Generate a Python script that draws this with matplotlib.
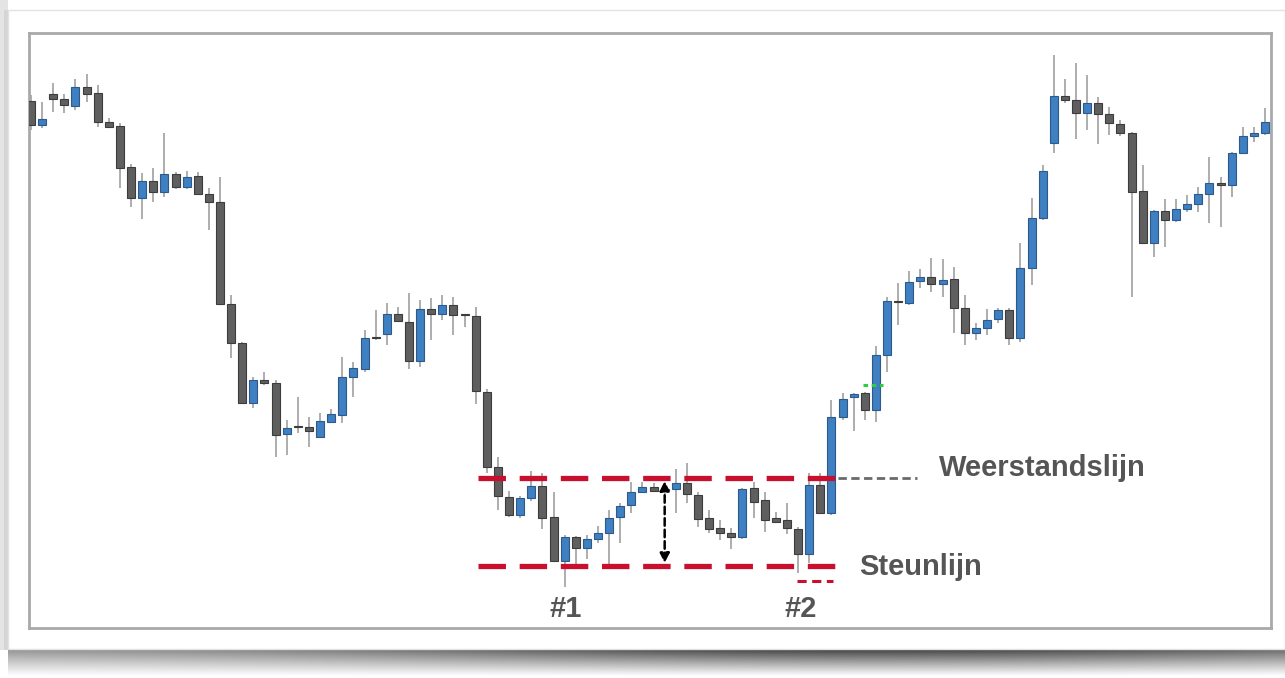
"""Candlestick chart with support / resistance range annotations."""

import matplotlib.pyplot as plt
import numpy as np
from matplotlib.patches import Rectangle

# price data (arbitrary price units), one entry per candle
opens = [599, 575, 606, 601, 594, 613, 607, 578, 574, 533,
         502, 519, 508, 526, 513, 524, 506, 498, 396, 357,
         297, 320, 317, 266, 273, 273, 263, 278, 285, 323,
         331, 362, 366, 386, 378, 339, 391, 386, 395, 386,
         384, 308, 233, 203, 185, 202, 214, 183, 139, 163,
         152, 161, 167, 183, 195, 208, 213, 210, 211, 217,
         205, 182, 172, 167, 163, 212, 200, 182, 180, 171,
         146, 215, 187, 283, 303, 307, 290, 345, 399, 397,
         419, 423, 416, 421, 392, 367, 372, 381, 390, 362,
         432, 482, 557, 604, 600, 587, 597, 586, 576, 567,
         509, 457, 489, 480, 491, 496, 506, 517, 515, 547,
         564, 567]
highs = [605, 598, 617, 606, 621, 626, 615, 582, 577, 536,
         527, 532, 567, 528, 529, 528, 512, 523, 405, 358,
         323, 328, 320, 280, 303, 283, 287, 291, 343, 338,
         370, 390, 397, 393, 407, 400, 402, 405, 403, 386,
         393, 311, 243, 209, 204, 229, 227, 208, 165, 164,
         165, 174, 190, 197, 218, 218, 217, 216, 231, 237,
         208, 190, 180, 172, 212, 218, 208, 188, 197, 173,
         227, 227, 300, 307, 307, 308, 354, 403, 417, 429,
         431, 442, 441, 433, 405, 377, 391, 392, 392, 457,
         502, 535, 645, 621, 637, 625, 603, 593, 580, 568,
         535, 490, 501, 501, 505, 513, 543, 523, 548, 573,
         573, 592]
lows = [570, 572, 588, 587, 590, 598, 573, 572, 512, 493,
        481, 498, 503, 511, 511, 505, 470, 395, 342, 296,
        292, 315, 243, 245, 267, 253, 262, 277, 277, 303,
        328, 360, 355, 378, 331, 333, 360, 380, 365, 373,
        296, 227, 190, 183, 182, 199, 171, 138, 113, 136,
        141, 157, 136, 157, 187, 207, 208, 206, 187, 197,
        173, 167, 160, 151, 161, 182, 168, 177, 166, 127,
        137, 186, 185, 280, 269, 280, 278, 328, 375, 395,
        412, 408, 403, 367, 355, 360, 365, 377, 355, 358,
        415, 480, 547, 597, 561, 570, 556, 565, 564, 403,
        456, 443, 453, 478, 488, 488, 477, 473, 503, 546,
        558, 565]
closes = [575, 581, 601, 595, 613, 606, 578, 573, 532, 502,
          519, 508, 526, 513, 523, 506, 498, 396, 357, 297,
          320, 317, 265, 272, 273, 269, 279, 286, 323, 332,
          362, 362, 386, 379, 339, 391, 386, 395, 385, 385,
          309, 233, 204, 185, 202, 214, 182, 139, 163, 152,
          161, 167, 182, 194, 208, 213, 209, 211, 217, 206,
          181, 171, 167, 163, 211, 198, 180, 178, 172, 146,
          215, 187, 283, 301, 306, 290, 345, 399, 398, 418,
          423, 416, 420, 392, 367, 372, 380, 390, 362, 432,
          482, 529, 604, 600, 587, 597, 586, 577, 567, 508,
          457, 489, 480, 491, 496, 506, 517, 515, 547, 564,
          567, 578]

# annotation levels
resistance = 222
support = 134
second_low = 119
range_start, range_end = 40.2, 72.6
label_resistance = "Weerstandslijn"
label_support = "Steunlijn"
bottom_labels = ["#1", "#2"]
bottom_label_x = [48.1, 69.2]

UP_COLOR = "#3f80c2"
UP_EDGE = "#2c5a8a"
DOWN_COLOR = "#5f5f5f"
DOWN_EDGE = "#3c3c3c"
WICK_COLOR = "#a0a0a0"
RED = "#c8102e"
TEXT_GRAY = "#555555"

W, H = 1285, 678
fig = plt.figure(figsize=(W / 100, H / 100), dpi=100)
fig.patch.set_facecolor("white")

# background card + drop shadow
bg = fig.add_axes([0, 0, 1, 1])
bg.set_xlim(0, W)
bg.set_ylim(H, 0)
bg.axis("off")
yy = np.linspace(0, 1, 60)[:, None]
xx = np.linspace(0, 1, 300)[None, :]
vertical = np.clip(1.0 - yy * 1.05, 0, 1) ** 1.1
horizontal = 0.55 + 0.45 * np.exp(-((xx - 0.68) / 0.4) ** 2)
shadow = vertical * horizontal * 0.78
rgba = np.zeros((60, 300, 4))
rgba[..., 3] = shadow
bg.imshow(rgba, extent=(8, W, H, 648), aspect="auto", interpolation="bilinear", zorder=0)
bg.add_patch(Rectangle((0, 0), 8, 650, facecolor="#e4e4e4", edgecolor="none", zorder=0))
bg.add_patch(Rectangle((4, 10), 5, 640, facecolor="#d0d0d0", edgecolor="none", zorder=0, alpha=0.7))
bg.add_patch(Rectangle((8, 10), W - 8, 639, facecolor="white", edgecolor="#e2e2e2",
                       linewidth=1.0, zorder=1))

# main chart area
ax = fig.add_axes([29 / W, (H - 628) / H, (1271 - 29) / W, (628 - 33) / H])
ax.set_facecolor("white")
for spine in ax.spines.values():
    spine.set_color("#a9a9a9")
    spine.set_linewidth(2.0)
ax.set_xticks([])
ax.set_yticks([])

n = len(opens)
xs = np.arange(n)
body_width = 0.72
for x, o, h, l, c in zip(xs, opens, highs, lows, closes):
    up = c > o
    ax.vlines(x, l, h, color=WICK_COLOR, linewidth=1.2, zorder=2)
    bottom = min(o, c)
    height = max(abs(c - o), 1.2)
    ax.add_patch(Rectangle((x - body_width / 2, bottom), body_width, height,
                           facecolor=UP_COLOR if up else DOWN_COLOR,
                           edgecolor=UP_EDGE if up else DOWN_EDGE,
                           linewidth=0.8, zorder=3))

ax.set_xlim(-0.18, 111.54)
ax.set_ylim(72, 667)

# support / resistance lines
ax.plot([range_start, range_end], [resistance, resistance], color=RED, linewidth=3.8,
        dashes=(5.2, 2.6), zorder=5, solid_capstyle="butt")
ax.plot([range_start, range_end], [support, support], color=RED, linewidth=3.8,
        dashes=(5.2, 2.6), zorder=5, solid_capstyle="butt")
ax.plot([68.9, 72.1], [second_low, second_low], color=RED, linewidth=2.2,
        dashes=(3.0, 1.8), zorder=5)
ax.plot([range_end, 79.7], [resistance, resistance], color="#6a6a6a", linewidth=2.0,
        dashes=(3.0, 1.6), zorder=4)

# green marker
ax.plot([74.8, 76.6], [315, 315], color="#2ecc40", linewidth=2.2, dashes=(1.5, 1.2), zorder=5)

# height of the range
ax.annotate("", xy=(57.0, resistance - 3), xytext=(57.0, support + 3),
            arrowprops=dict(arrowstyle="<|-|>", color="black", linewidth=1.8,
                            linestyle=(0, (3, 1.6)), mutation_scale=14,
                            shrinkA=0, shrinkB=0), zorder=6)

ax.text(81.7, resistance + 10, label_resistance, color=TEXT_GRAY, fontsize=21,
        fontweight="bold", family="Liberation Sans", ha="left", va="center")
ax.text(74.5, support - 1, label_support, color=TEXT_GRAY, fontsize=21,
        fontweight="bold", family="Liberation Sans", ha="left", va="center")
for label, x in zip(bottom_labels, bottom_label_x):
    ax.text(x, 91, label, color=TEXT_GRAY, fontsize=21, fontweight="bold",
            family="Liberation Sans", ha="center", va="center")

fig.savefig("out.png", dpi=100, facecolor=fig.get_facecolor())
